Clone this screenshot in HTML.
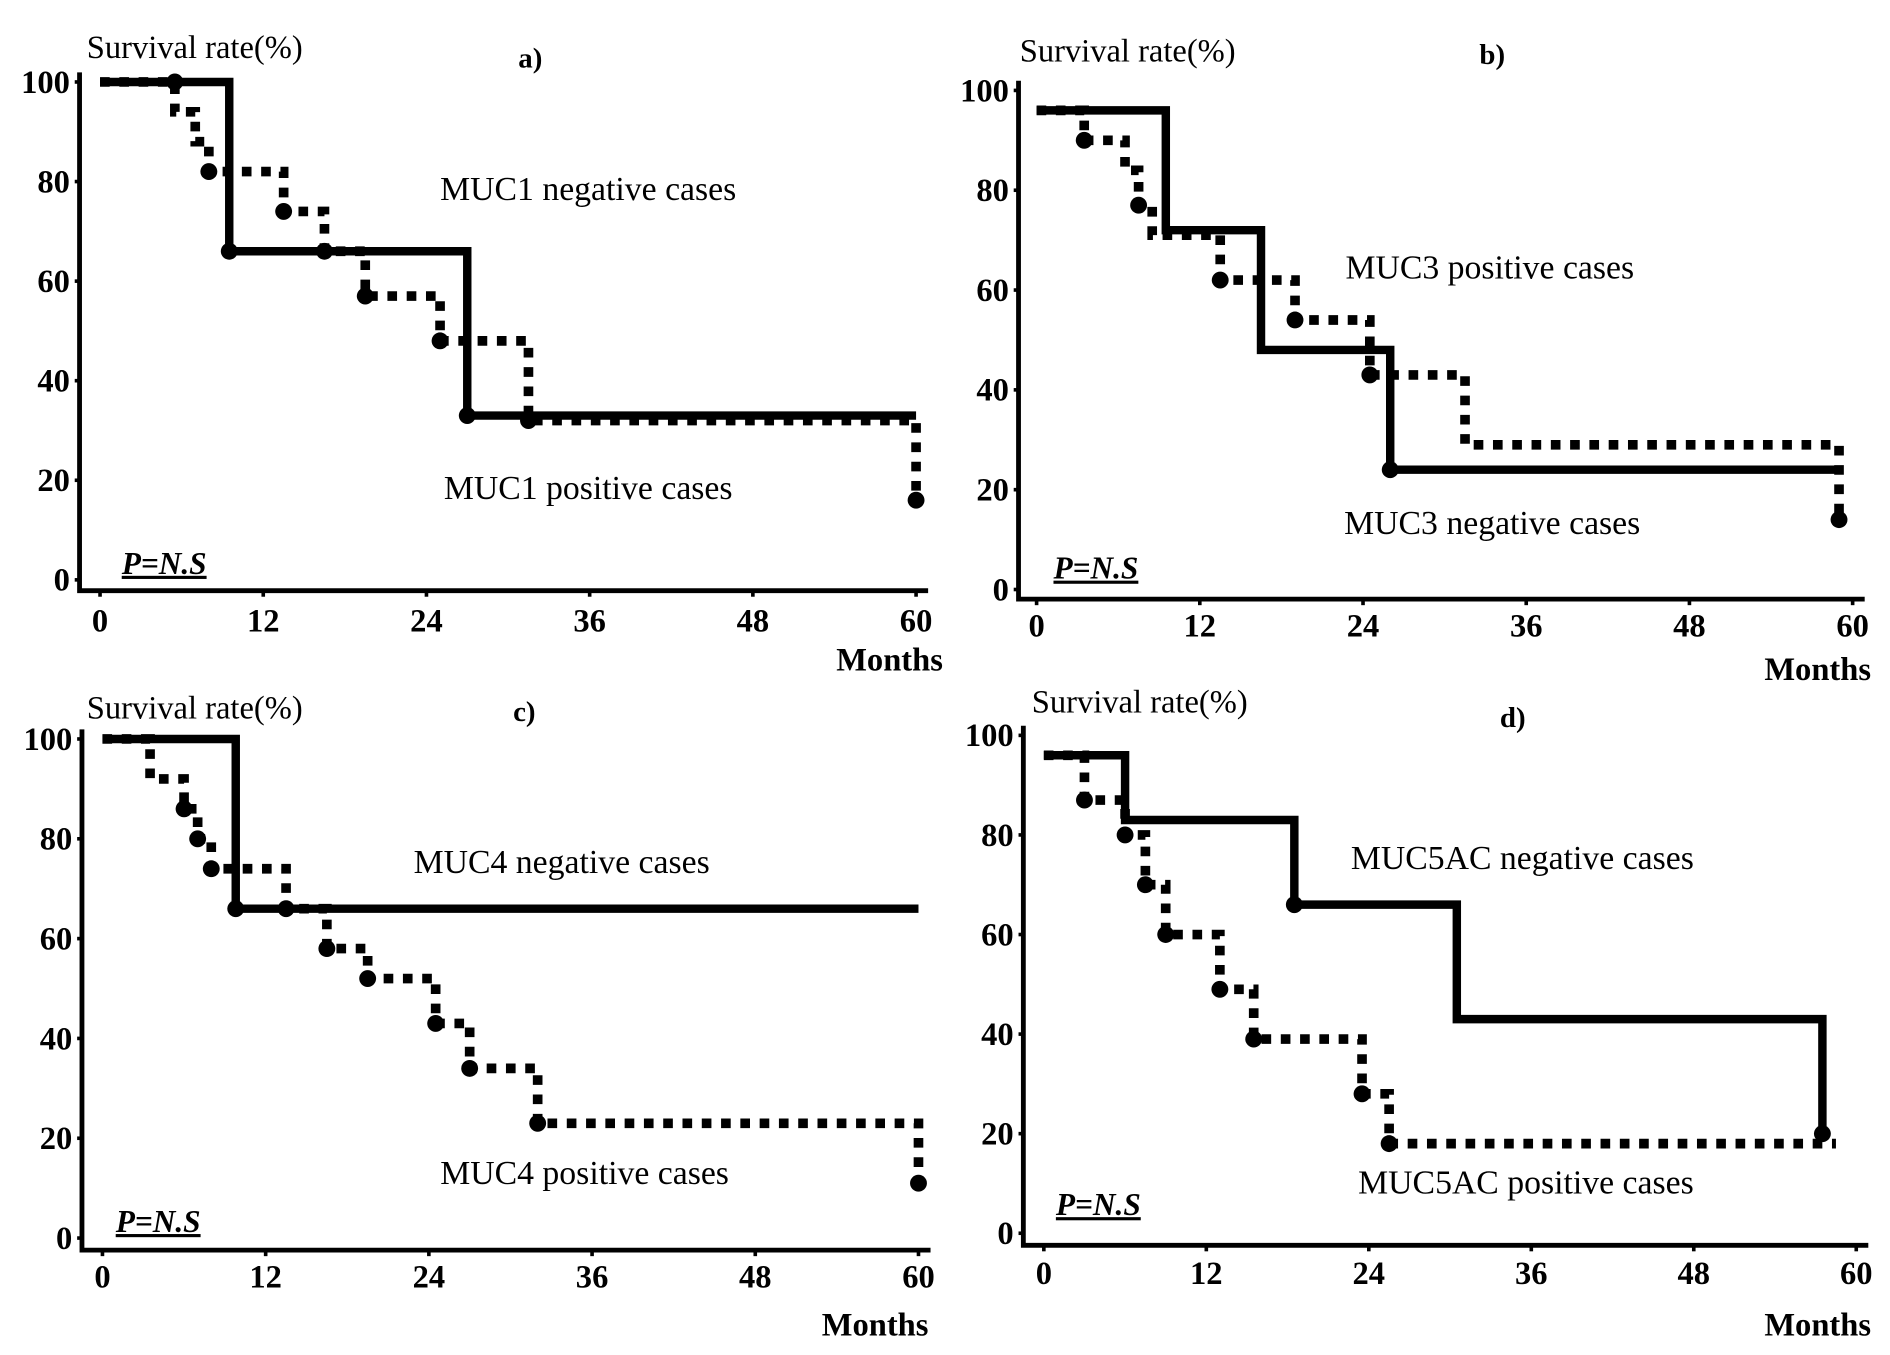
<!DOCTYPE html>
<html><head><meta charset="utf-8"><style>
html,body{margin:0;padding:0;background:#fff;width:1890px;height:1355px;overflow:hidden}
svg{display:block}
.tk{font-family:"Liberation Serif",serif;font-weight:bold;font-size:27px}
.lb{font-family:"Liberation Serif",serif;font-size:28px}
.st{font-family:"Liberation Serif",serif;font-size:27px}
.ti{font-family:"Liberation Serif",serif;font-weight:bold;font-size:24px}
</style></head><body>
<svg id="fig" width="1890" height="1355" viewBox="0 0 1568 1124" preserveAspectRatio="none" xmlns="http://www.w3.org/2000/svg"></svg>
<script>
const xTicks=[0,12,24,36,48,60];
const yTicks=[0,20,40,60,80,100];
// Panel a
const aNegT=[0,9.5,27,60]; const aNegS=[100,66,33,33];
const aPosT=[0,5.5,7,8,13.5,16.5,19.5,25,31.5,60]; const aPosS=[100,94,88,82,74,66,57,48,32,16];
const aNegC=[[9.5,66],[27,33]]; const aPosC=[[5.5,100],[8,82],[13.5,74],[16.5,66],[19.5,57],[25,48],[31.5,32],[60,16]];
// Panel b
const bNegT=[0,9.5,16.5,26,59]; const bNegS=[96,72,48,24,24];
const bPosT=[0,3.5,6.5,7.5,8.5,13.5,19,24.5,31.5,59]; const bPosS=[96,90,84,77,71,62,54,43,29,14];
const bNegC=[[26,24]]; const bPosC=[[3.5,90],[7.5,77],[13.5,62],[19,54],[24.5,43],[59,14]];
// Panel c
const cNegT=[0,9.8,60]; const cNegS=[100,66,66];
const cPosT=[0,3.5,6,7,8,13.5,16.5,19.5,24.5,27,32,60]; const cPosS=[100,92,86,80,74,66,58,52,43,34,23,11];
const cNegC=[[9.8,66]]; const cPosC=[[6,86],[7,80],[8,74],[13.5,66],[16.5,58],[19.5,52],[24.5,43],[27,34],[32,23],[60,11]];
// Panel d
const dNegT=[0,6,18.5,30.5,57.5,58]; const dNegS=[96,83,66,43,20,20];
const dPosT=[0,3,6,7.5,9,13,15.5,23.5,25.5,58.5]; const dPosS=[96,87,80,70,60,49,39,28,18,18];
const dNegC=[[18.5,66],[57.5,20]]; const dPosC=[[3,87],[6,80],[7.5,70],[9,60],[13,49],[15.5,39],[23.5,28],[25.5,18]];

const panels=[
 {id:'a',x0:83,x60:760,y0:481,y100:68,ax:66,ay:490,tl:524,title:'a)',tx:440,ty:48,sx:72,sy:40,mx:738,my:548,
  neg:[aNegT,aNegS,aNegC],pos:[aPosT,aPosS,aPosC],l1:['MUC1 negative cases',488,157],l2:['MUC1 positive cases',488,405],p:[105,468]},
 {id:'b',x0:860,x60:1537,y0:489,y100:75,ax:845,ay:497,tl:528,title:'b)',tx:1238,ty:45,sx:846,sy:43,mx:1508,my:556,
  neg:[bNegT,bNegS,bNegC],pos:[bPosT,bPosS,bPosC],l1:['MUC3 positive cases',1236,222],l2:['MUC3 negative cases',1238,434],p:[878,472]},
 {id:'c',x0:85,x60:762,y0:1027,y100:613,ax:68,ay:1037,tl:1068,title:'c)',tx:435,ty:590,sx:72,sy:588,mx:726,my:1100,
  neg:[cNegT,cNegS,cNegC],pos:[cPosT,cPosS,cPosC],l1:['MUC4 negative cases',466,715],l2:['MUC4 positive cases',485,973],p:[100,1014]},
 {id:'d',x0:866,x60:1540,y0:1023,y100:610,ax:849,ay:1033,tl:1065,title:'d)',tx:1255,ty:595,sx:856,sy:583,mx:1508,my:1100,
  neg:[dNegT,dNegS,dNegC],pos:[dPosT,dPosS,dPosC],l1:['MUC5AC negative cases',1263,712],l2:['MUC5AC positive cases',1266,981],p:[880,1000]}
];
const NS='http://www.w3.org/2000/svg';
const svg=document.getElementById('fig');
function mk(tag,attrs,parent,txt){const e=document.createElementNS(NS,tag);for(const k in attrs)e.setAttribute(k,attrs[k]);if(txt!==undefined)e.textContent=txt;parent.appendChild(e);return e;}
function stepPath(T,S,X,Y){let d='M'+X(T[0])+' '+Y(S[0]);for(let i=1;i<T.length;i++){d+=' H'+X(T[i])+' V'+Y(S[i]);}return d;}
panels.forEach(p=>{
 const X=t=>p.x0+(p.x60-p.x0)*t/60;
 const Y=s=>p.y0-(p.y0-p.y100)*s/100;
 const g=mk('g',{},svg);
 
 
 const axes=mk('path',{d:`M${p.ax} ${p.y100-8} V${p.ay} H${p.x60+10}`,stroke:'#000','stroke-width':4,fill:'none'},g);
 
 
 xTicks.forEach(t=>{
  const tx=mk('text',{x:X(t),y:p.tl,'text-anchor':'middle',class:'tk'},g,String(t));
  
  
  mk('line',{x1:X(t),x2:X(t),y1:p.ay,y2:p.ay+5,stroke:'#000','stroke-width':3},g);
 });
 yTicks.forEach(s=>{
  const ty=mk('text',{x:p.ax-8,y:Y(s)+9,'text-anchor':'end',class:'tk'},g,String(s));
  
  
  mk('line',{x1:p.ax-4,x2:p.ax,y1:Y(s),y2:Y(s),stroke:'#000','stroke-width':3},g);
 });
 const st=mk('text',{x:p.sx,y:p.sy+8,class:'st'},g,'Survival rate(%)');
 
 
 const tt=mk('text',{x:p.tx,y:p.ty+8,'text-anchor':'middle',class:'ti'},g,p.title);
 
 
 const mo=mk('text',{x:p.mx,y:p.my+8,'text-anchor':'middle',class:'tk'},g,'Months');
 
 
 const neg=mk('path',{d:stepPath(p.neg[0],p.neg[1],X,Y),stroke:'#000','stroke-width':7,fill:'none'},g);
 
 
 const pos=mk('path',{d:stepPath(p.pos[0],p.pos[1],X,Y),stroke:'#000','stroke-width':8,fill:'none','stroke-dasharray':'8 8'},g);
 
 
 p.neg[2].concat(p.pos[2]).forEach(c=>{
  const m=mk('circle',{cx:X(c[0]),cy:Y(c[1]),r:7,fill:'#000'},g);
  
  
 });
 [p.l1,p.l2].forEach(l=>{
  const e=mk('text',{x:l[1],y:l[2]+9,'text-anchor':'middle',class:'lb'},g,l[0]);
  
  
 });
 const pn=mk('text',{x:p.p[0]-4,y:p.p[1]+8,'font-family':'Liberation Serif, serif','font-weight':'bold','font-style':'italic','font-size':26,'text-decoration':'underline'},g,'P=N.S');
 
 
});
</script>
</body></html>
